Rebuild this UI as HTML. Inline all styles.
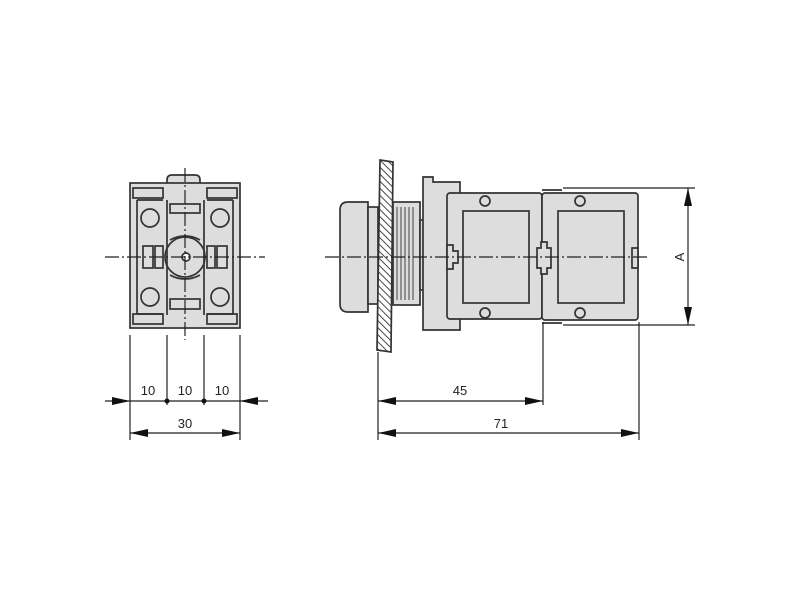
<!DOCTYPE html>
<html><head><style>body{margin:0;background:#fff}svg{display:block}text{font-family:"Liberation Sans",sans-serif;font-size:13px;fill:#222}</style></head>
<body>
<svg width="800" height="600" viewBox="0 0 800 600" xmlns="http://www.w3.org/2000/svg">
<defs>
<pattern id="h" width="5" height="5" patternUnits="userSpaceOnUse" patternTransform="rotate(-45)"><rect width="5" height="5" fill="#fff"/><line x1="0" y1="0" x2="0" y2="5" stroke="#333" stroke-width="1.8"/></pattern>
<marker id="a" viewBox="0 0 10 6" refX="10" refY="3" markerWidth="18" markerHeight="8" markerUnits="userSpaceOnUse" orient="auto-start-reverse" preserveAspectRatio="none"><path d="M0,0L10,3L0,6z" fill="#111"/></marker>
</defs>
<g stroke="#333" stroke-width="1.7" fill="#ddd">
<!-- left view -->
<path d="M167,185 V180 Q167,175 172,175 H195 Q200,175 200,180 V185 Z"/>
<rect x="130" y="183" width="110" height="145"/>
<rect x="133" y="188" width="30" height="10"/><rect x="207" y="188" width="30" height="10"/>
<rect x="133" y="314" width="30" height="10"/><rect x="207" y="314" width="30" height="10"/>
<rect x="170" y="204" width="30" height="9"/><rect x="170" y="299" width="30" height="10"/>
<path d="M167,200 V315 M204,200 V315" fill="none"/>
<path d="M137,200 H163 M137,314 H163 M207,200 H233 M207,314 H233 M137,200 V314 M233,200 V314" fill="none"/>
<circle cx="150" cy="218" r="9"/><circle cx="220" cy="218" r="9"/>
<circle cx="150" cy="297" r="9"/><circle cx="220" cy="297" r="9"/>
<path d="M170,240 A30,30 0 0 1 200,240 M170,275 A30,30 0 0 0 200,275" fill="none"/>
<circle cx="185" cy="257" r="20" fill="none"/>
<circle cx="186" cy="257" r="4" fill="#fff"/>
<rect x="143" y="246" width="10" height="22"/><rect x="155" y="246" width="8" height="22"/>
<rect x="207" y="246" width="8" height="22"/><rect x="217" y="246" width="10" height="22"/>
<!-- right view -->
<path d="M340,210 Q340,202 348,202 H368 V312 H348 Q340,312 340,304 Z"/>
<rect x="368" y="207" width="10" height="97"/>
<path d="M380,160 L393,162 L391,352 L377,350 Z" fill="url(#h)"/>
<rect x="393" y="202" width="27" height="103"/>
<path d="M397,207 V300 M401,207 V300 M405,207 V300 M409,207 V300 M413,207 V300" fill="none" stroke-width="0.9"/>
<rect x="420" y="220" width="5" height="70"/>
<path d="M423,177 H433 V182 H460 V330 H423 Z"/>
<rect x="447" y="193" width="95" height="126" rx="3"/>
<rect x="542" y="193" width="96" height="127" rx="3"/>
<path d="M542,190 H562 M542,323 H562" fill="none"/>
<rect x="463" y="211" width="66" height="92"/>
<rect x="558" y="211" width="66" height="92"/>
<path d="M447,245 h6 v6 h5 v12 h-5 v6 h-6 Z"/>
<path d="M537,248 h4 v-6 h6 v6 h4 v20 h-4 v6 h-6 v-6 h-4 Z"/>
<path d="M638,248 h-6 v20 h6 Z"/>
<circle cx="485" cy="201" r="5"/><circle cx="580" cy="201" r="5"/>
<circle cx="485" cy="313" r="5"/><circle cx="580" cy="313" r="5"/>
</g>
<g stroke="#222" stroke-width="1.2" fill="none">
<path d="M105,257 H265 M185,168 V340" stroke-dasharray="14,3,2,3"/>
<path d="M325,257 H650" stroke-dasharray="14,3,2,3"/>
<path d="M130,335 V440 M167,335 V405 M204,335 V405 M240,335 V440"/>
<path d="M105,401 H130" marker-end="url(#a)"/>
<path d="M268,401 H240" marker-end="url(#a)"/>
<path d="M130,401 H240"/>
<path d="M130,433 H240" marker-start="url(#a)" marker-end="url(#a)"/>
<path d="M378,352 V440 M543,322 V405 M639,322 V440"/>
<path d="M378,401 H543" marker-start="url(#a)" marker-end="url(#a)"/>
<path d="M378,433 H639" marker-start="url(#a)" marker-end="url(#a)"/>
<path d="M563,188 H695 M563,325 H695"/>
<path d="M688,188 V325" marker-start="url(#a)" marker-end="url(#a)"/>
</g>
<circle cx="167" cy="401" r="2.5" fill="#111"/><circle cx="204" cy="401" r="2.5" fill="#111"/>
<text x="148" y="395" text-anchor="middle">10</text>
<text x="185" y="395" text-anchor="middle">10</text>
<text x="222" y="395" text-anchor="middle">10</text>
<text x="185" y="428" text-anchor="middle">30</text>
<text x="460" y="395" text-anchor="middle">45</text>
<text x="501" y="428" text-anchor="middle">71</text>
<text x="0" y="0" text-anchor="middle" transform="translate(684,257) rotate(-90)">A</text>
</svg>
</body></html>
